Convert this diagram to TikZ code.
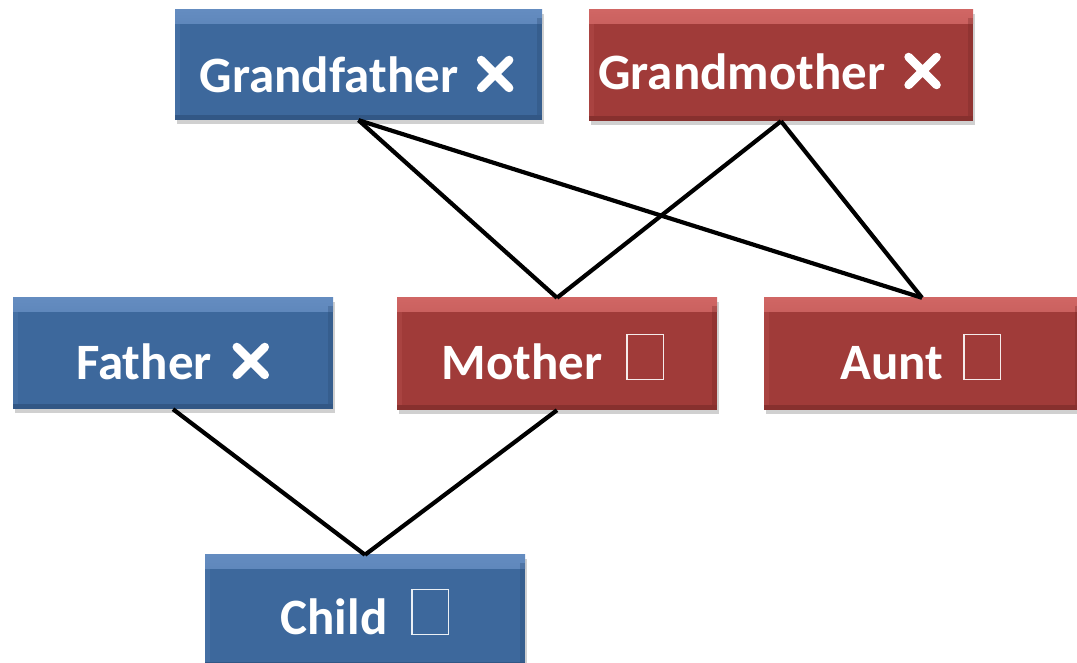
\documentclass[tikz,border=0pt]{standalone}
\usepackage{fontspec}
\setmainfont{Carlito}
\usetikzlibrary{shadows}

\definecolor{famblue}{RGB}{61,104,156}
\definecolor{famblueLight}{RGB}{100,140,192}
\definecolor{famblueDark}{RGB}{40,72,112}
\definecolor{famred}{RGB}{160,59,57}
\definecolor{famredLight}{RGB}{208,102,100}
\definecolor{famredDark}{RGB}{112,38,36}

% marks that follow the names
\newcommand\crossglyph{\tikz[baseline=0pt]{\useasboundingbox (0pt,0pt) rectangle (38pt,38pt);
  \draw[white,line width=8.5pt,line cap=round] (5pt,5pt) -- (33pt,33pt) (5pt,33pt) -- (33pt,5pt);}}
\newcommand\emptyglyph{\tikz[baseline=0pt]{\useasboundingbox (0pt,0pt) rectangle (38pt,46pt);
  \draw[white,opacity=.9,line width=1.4pt] (0.7pt,0.7pt) rectangle (37.3pt,45.3pt);}}

\tikzset{
  member/.style={rectangle, minimum width=#1, inner sep=0pt, draw=none,
    drop shadow={shadow xshift=2pt, shadow yshift=-4pt, opacity=.3, fill=black!60}},
  bluebox/.style={member=#1, fill=famblue,
    path picture={
      \shade[top color=famblueLight, bottom color=famblue]
        (path picture bounding box.north west) rectangle ([yshift=-14pt]path picture bounding box.north east);
      \fill[famblueDark, opacity=.5]
        (path picture bounding box.south west) rectangle ([yshift=5pt]path picture bounding box.south east);
      \fill[famblueDark, opacity=.3]
        ([yshift=-8pt]path picture bounding box.north east) rectangle ([xshift=-5pt,yshift=5pt]path picture bounding box.south east);
      \fill[famblueLight, opacity=.2]
        ([yshift=-8pt]path picture bounding box.north west) rectangle ([xshift=5pt,yshift=5pt]path picture bounding box.south west);
    }},
  redbox/.style={member=#1, fill=famred,
    path picture={
      \shade[top color=famredLight, bottom color=famred]
        (path picture bounding box.north west) rectangle ([yshift=-14pt]path picture bounding box.north east);
      \fill[famredDark, opacity=.5]
        (path picture bounding box.south west) rectangle ([yshift=5pt]path picture bounding box.south east);
      \fill[famredDark, opacity=.3]
        ([yshift=-8pt]path picture bounding box.north east) rectangle ([xshift=-5pt,yshift=5pt]path picture bounding box.south east);
      \fill[famredLight, opacity=.2]
        ([yshift=-8pt]path picture bounding box.north west) rectangle ([xshift=5pt,yshift=5pt]path picture bounding box.south west);
    }},
  personlabel/.style={text=white, font=\fontsize{51}{60}\selectfont\bfseries, inner sep=0pt, anchor=base},
  link/.style={line width=4.2pt, black}
}

\begin{document}
\begin{tikzpicture}[x=1pt,y=1pt]
  \useasboundingbox (0,0) rectangle (1077,663);
  \clip (0,0) rectangle (1077,663);
  \fill[white] (0,0) rectangle (1077,663);

  % family members
  \node[bluebox=367pt, minimum height=110pt] (gf) at (358.5,598) {};
  \node[redbox=384pt,  minimum height=111pt] (gm) at (781,597.5) {};
  \node[bluebox=320pt, minimum height=111pt] (fa) at (173,309.5) {};
  \node[redbox=320pt,  minimum height=112pt] (mo) at (557,309) {};
  \node[redbox=316pt,  minimum height=112pt] (au) at (922,309) {};
  \node[bluebox=320pt, minimum height=112pt] (ch) at (365,52) {};

  % names
  \node[personlabel] (gfname) at (357,570) {Grandfather\hspace{18pt}\crossglyph};
  \node[personlabel] (gmname) at (770,573) {Grandmother\hspace{18pt}\crossglyph};
  \node[personlabel] (faname) at (173,283) {Father\hspace{20pt}\crossglyph};
  \node[personlabel] (moname) at (553,283) {Mother\hspace{24pt}\emptyglyph};
  \node[personlabel] (auname) at (921,283) {Aunt\hspace{20pt}\emptyglyph};
  \node[personlabel] (chname) at (365,28) {Child\hspace{24pt}\emptyglyph};

  % parent links
  \draw[link] (gf.south) -- (mo.north);
  \draw[link] (gf.south) -- (au.north);
  \draw[link] (gm.south) -- (mo.north);
  \draw[link] (gm.south) -- (au.north);
  \draw[link] (fa.south) -- (ch.north);
  \draw[link] (mo.south) -- (ch.north);
\end{tikzpicture}
\end{document}
